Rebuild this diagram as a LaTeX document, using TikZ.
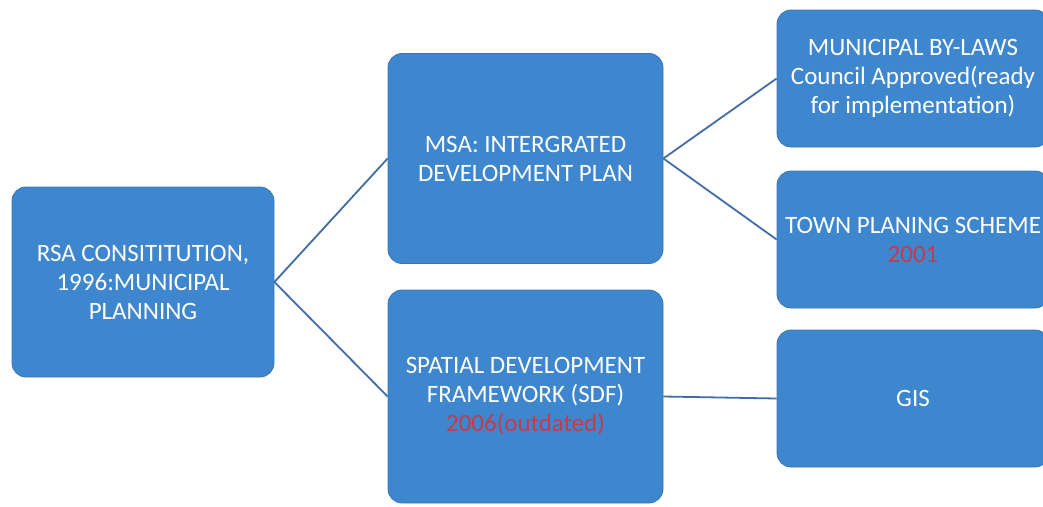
\documentclass[tikz,border=0pt]{standalone}
\usepackage{fontspec}
\setmainfont{Carlito}
\definecolor{boxblue}{RGB}{62,134,206}
\definecolor{linkblue}{RGB}{66,108,168}
\definecolor{yearred}{RGB}{200,58,72}
\tikzset{plan box/.style={fill=boxblue,draw=boxblue!88!black,line width=0.8pt,rounded corners=14pt,
    text=white,align=center,inner sep=0pt,font=\fontsize{25}{29}\selectfont},
  root box/.style={plan box,minimum width=262pt,minimum height=190pt},
  mid box/.style={plan box,minimum width=275pt,minimum height=210pt},
  leaf box/.style={plan box,minimum width=272pt,minimum height=137pt},
  link/.style={draw=linkblue,line width=1.8pt}}

\begin{document}
\begin{tikzpicture}[x=1pt,y=-1pt]
    \useasboundingbox (0,0) rectangle (1043,506);

    \node[root box] at (143,282)      (rsa)  {RSA CONSITITUTION,\\1996:MUNICIPAL\\PLANNING};
    \node[mid box] at (525.5,158.5)   (idp)  {MSA: INTERGRATED\\DEVELOPMENT PLAN};
    \node[mid box,minimum height=213pt] at (525.5,396.5) (sdf)
        {SPATIAL DEVELOPMENT\\FRAMEWORK (SDF)\\\textcolor{yearred}{2006(outdated)}};
    \node[leaf box] at (913,78.5)     (bylaws) {MUNICIPAL BY-LAWS\\Council Approved(ready\\for implementation)};
    \node[leaf box] at (913,239.5)    (tps)  {TOWN PLANING SCHEME\\\textcolor{yearred}{2001}};
    \node[leaf box] at (913,398.5)    (gis)  {GIS};

    \draw[link] (rsa.east) -- (idp.west);
    \draw[link] (rsa.east) -- (sdf.west);
    \draw[link] (idp.east) -- (bylaws.west);
    \draw[link] (idp.east) -- (tps.west);
    \draw[link] (sdf.east) -- (gis.west);
\end{tikzpicture}
\end{document}
